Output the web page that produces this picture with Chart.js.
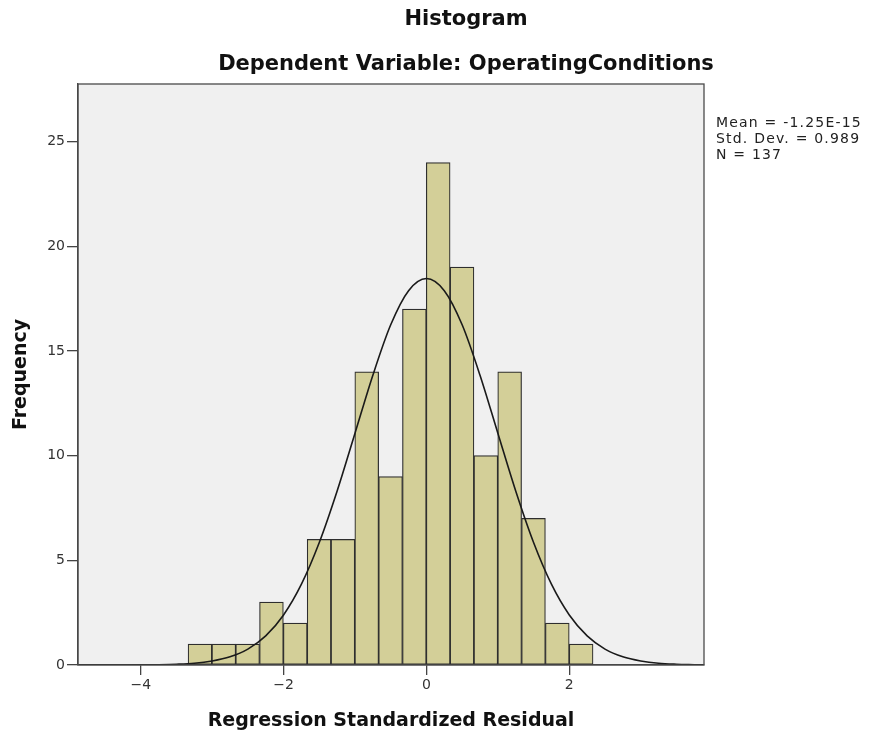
<!DOCTYPE html>
<html>
<head>
<meta charset="utf-8">
<title>Histogram</title>
<script src="https://cdn.jsdelivr.net/npm/chart.js@4.4.1/dist/chart.umd.min.js"></script>
<style>
  html, body { margin: 0; padding: 0; background: #fff; }
  #wrap { width: 869px; height: 738px; position: relative; }
</style>
</head>
<body>
<div id="wrap"><canvas id="histChart" width="869" height="738"></canvas></div>
<script>
// Residual histogram with fitted normal curve

// bins: first edge and width, counts per bin
const binStart = -3.337;
const binWidth = 0.3335;
const counts = [1, 1, 1, 3, 2, 6, 6, 14, 9, 17, 24, 19, 10, 14, 7, 2, 1];

// normal curve read at fixed x positions
const curveX = [-4.88, -4.75, -4.5, -4.25, -4, -3.75, -3.5, -3.25, -3, -2.75, -2.5, -2.25, -2, -1.75, -1.5, -1.25, -1, -0.75, -0.5, -0.25,
  0, 0.25, 0.5, 0.75, 1, 1.25, 1.5, 1.75, 2, 2.25, 2.5, 2.75, 3, 3.25, 3.5, 3.75, 3.89];
const curveY = [0.0001, 0.0002, 0.0006, 0.0018, 0.005, 0.014, 0.035, 0.08, 0.19, 0.39, 0.76, 1.39, 2.39, 3.86, 5.85, 8.31, 11.07, 13.84, 16.25, 17.88,
  18.46, 17.88, 16.25, 13.84, 11.07, 8.31, 5.85, 3.86, 2.39, 1.39, 0.76, 0.39, 0.19, 0.08, 0.035, 0.014, 0.003];

const xTicks = [-4, -2, 0, 2];
const yTicks = [0, 5, 10, 15, 20, 25];
const xRange = [-4.878, 3.886];
const yRange = [0, 27.75];

const titleText = 'Histogram';
const subtitleText = 'Dependent Variable: OperatingConditions';
const statsLines = ['Mean = -1.25E-15', 'Std. Dev. = 0.989', 'N = 137'];

const FONT = '"DejaVu Sans", Verdana, sans-serif';

const barPoints = counts.map((c, i) => ({ x: binStart + binWidth * (i + 0.5), y: c }));
const curvePoints = curveX.map((x, i) => ({ x, y: curveY[i] }));

// grey plot background + frame, titles and the stats box
const decor = {
  id: 'decor',
  beforeDraw(chart) {
    const { ctx, chartArea: a } = chart;
    ctx.save();
    ctx.fillStyle = '#f0f0f0';
    ctx.fillRect(a.left, a.top, a.right - a.left, a.bottom - a.top);
    ctx.restore();
  },
  afterDraw(chart) {
    const { ctx, chartArea: a } = chart;
    ctx.save();
    ctx.strokeStyle = '#4a4a4a';
    ctx.lineWidth = 1.3;
    ctx.strokeRect(a.left, a.top, a.right - a.left, a.bottom - a.top);

    ctx.fillStyle = '#111';
    ctx.textAlign = 'center';
    ctx.textBaseline = 'middle';
    ctx.font = 'bold 21px ' + FONT;
    ctx.fillText(titleText, 466, 20);
    ctx.fillText(subtitleText, 466, 65);

    ctx.textAlign = 'left';
    ctx.font = '14px ' + FONT;
    ctx.letterSpacing = '1.2px';
    ctx.fillStyle = '#222';
    statsLines.forEach((s, i) => ctx.fillText(s, 716, 123 + i * 16));
    ctx.restore();
  }
};

new Chart(document.getElementById('histChart'), {
  type: 'bar',
  data: {
    datasets: [
      {
        type: 'line',
        data: curvePoints,
        borderColor: '#1a1a1a',
        borderWidth: 1.6,
        pointRadius: 0,
        cubicInterpolationMode: 'monotone',
        fill: false,
        order: 0
      },
      {
        type: 'bar',
        data: barPoints,
        backgroundColor: '#d3cf98',
        borderColor: '#2e2e2e',
        borderWidth: 1.2,
        borderSkipped: false,
        barPercentage: 1,
        categoryPercentage: 1,
        order: 1
      }
    ]
  },
  options: {
    responsive: false,
    animation: false,
    layout: { padding: { top: 84, right: 165, bottom: 0, left: 0 } },
    plugins: {
      legend: { display: false },
      tooltip: { enabled: false }
    },
    scales: {
      x: {
        type: 'linear',
        offset: false,
        min: xRange[0],
        max: xRange[1],
        afterBuildTicks: s => { s.ticks = xTicks.map(v => ({ value: v })); },
        afterFit: s => { s.height = 73; },
        grid: { offset: false, drawOnChartArea: false, drawTicks: true, tickLength: 10, color: '#444', lineWidth: 1.3 },
        border: { display: true, color: '#444', width: 1.3 },
        ticks: {
          color: '#333',
          padding: 2,
          maxRotation: 0,
          font: { family: FONT, size: 14 },
          callback: v => v < 0 ? '\u2212' + Math.abs(v) : String(v)
        },
        title: {
          display: true,
          text: 'Regression Standardized Residual',
          color: '#111',
          font: { family: FONT, size: 19, weight: 'bold' },
          padding: { top: 0, bottom: 6 }
        }
      },
      y: {
        min: yRange[0],
        max: yRange[1],
        afterBuildTicks: s => { s.ticks = yTicks.map(v => ({ value: v })); },
        afterFit: s => { s.width = 78; },
        grid: { drawOnChartArea: false, drawTicks: true, tickLength: 11, color: '#444', lineWidth: 1.3 },
        border: { display: true, color: '#444', width: 1.3 },
        ticks: {
          color: '#333',
          padding: 2,
          font: { family: FONT, size: 14 }
        },
        title: {
          display: true,
          text: 'Frequency',
          color: '#111',
          font: { family: FONT, size: 19, weight: 'bold' },
          padding: { top: 10, bottom: 0 }
        }
      }
    }
  },
  plugins: [decor]
});
</script>
</body>
</html>
